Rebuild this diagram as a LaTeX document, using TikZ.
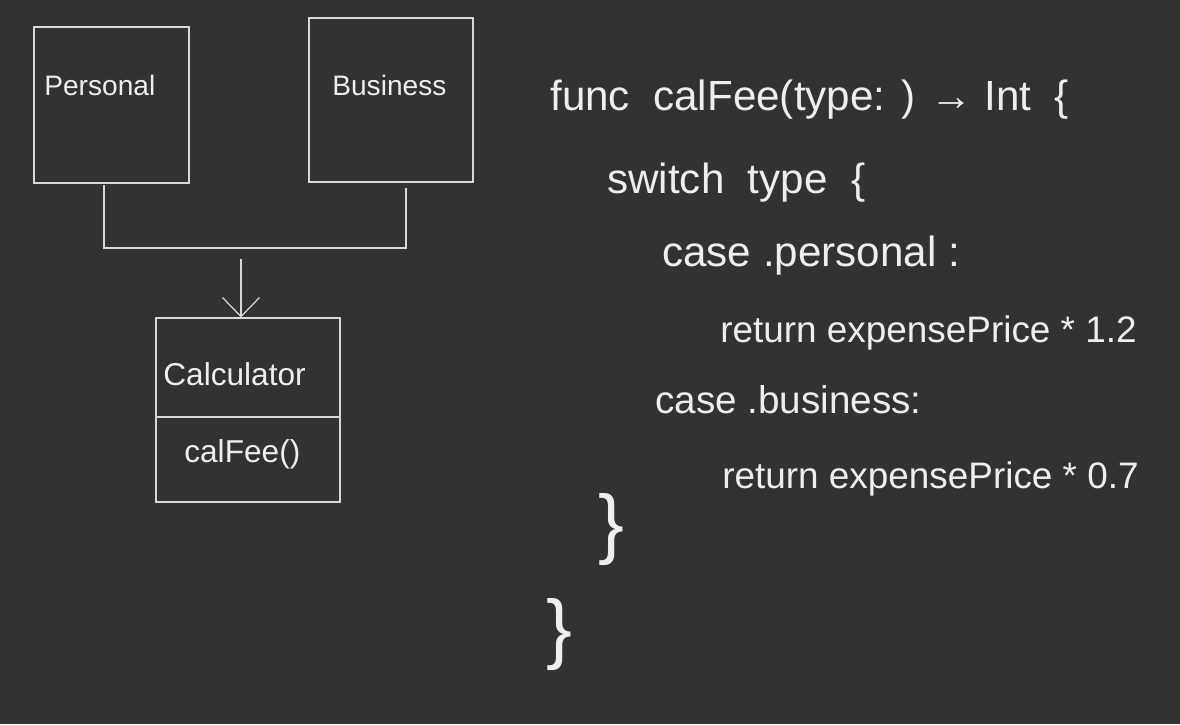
\documentclass[tikz,border=0pt]{standalone}
\usepackage{fontspec}
\setmainfont{Liberation Sans}
\usetikzlibrary{arrows.meta}
\definecolor{board}{HTML}{323232}
\definecolor{chalk}{HTML}{D8D8D8}
\definecolor{ink}{HTML}{EEEEEE}
\begin{document}
\begin{tikzpicture}[
  x=0.02cm, y=-0.02cm,
  box/.style={draw=chalk, line width=0.7pt, inner sep=0pt},
  lbl/.style={anchor=base west, inner sep=0pt, text=ink, font=\fontsize{16}{19}\selectfont},
  code/.style={anchor=base west, inner sep=0pt, text=ink, font=\fontsize{24}{28}\selectfont},
  brace/.style={anchor=base west, inner sep=0pt, text=ink, font=\fontsize{44}{50}\selectfont},
  arr/.style={-{Straight Barb[length=0.38cm,width=0.74cm]}, draw=chalk, line width=0.7pt}
]
\fill[board] (0,0) rectangle (1180,724);
\useasboundingbox (0,0) rectangle (1180,724);

\node[box, minimum width=3.10cm, minimum height=3.12cm] (personal) at (111.5,105) {};
\node[box, minimum width=3.28cm, minimum height=3.28cm] (business) at (391,100) {};
\node[box, minimum width=3.68cm, minimum height=3.68cm] (calc) at (248,410) {};
\draw[chalk, line width=0.7pt] (calc.west |- 0,417) -- (calc.east |- 0,417);

\node[lbl] (personaltxt) at (44,95) {Personal};
\node[lbl] (businesstxt) at (332,95) {Business};
\node[lbl, font=\fontsize{18}{21}\selectfont] (calctxt) at (163,385) {Calculator};
\node[lbl, font=\fontsize{18}{21}\selectfont] (feetxt) at (184,462) {calFee()};

\coordinate (pdrop) at (104,185);
\coordinate (bdrop) at (406,188);
\coordinate (join) at (241,259);
\draw[chalk, line width=0.7pt] (pdrop) |- (bdrop |- 0,248) -- (bdrop);
\draw[arr] (join) -- (join |- calc.north);

\node[code] (l1) at (550,110) {func\ \ calFee(type: ) → Int\ \ \{};
\node[code] (l2) at (607,193) {switch\ \ type\ \ \{};
\node[code] (l3) at (662,266) {case .personal :};
\node[code, font=\fontsize{21}{25}\selectfont] (l4) at (720,342) {return expensePrice * 1.2};
\node[code, font=\fontsize{22}{26}\selectfont] (l5) at (655,413) {case .business:};
\node[code, font=\fontsize{21}{25}\selectfont] (l6) at (722,488) {return expensePrice * 0.7};
\node[brace] (end1) at (598,549) {\}};
\node[brace] (end2) at (546,654) {\}};
\end{tikzpicture}
\end{document}
